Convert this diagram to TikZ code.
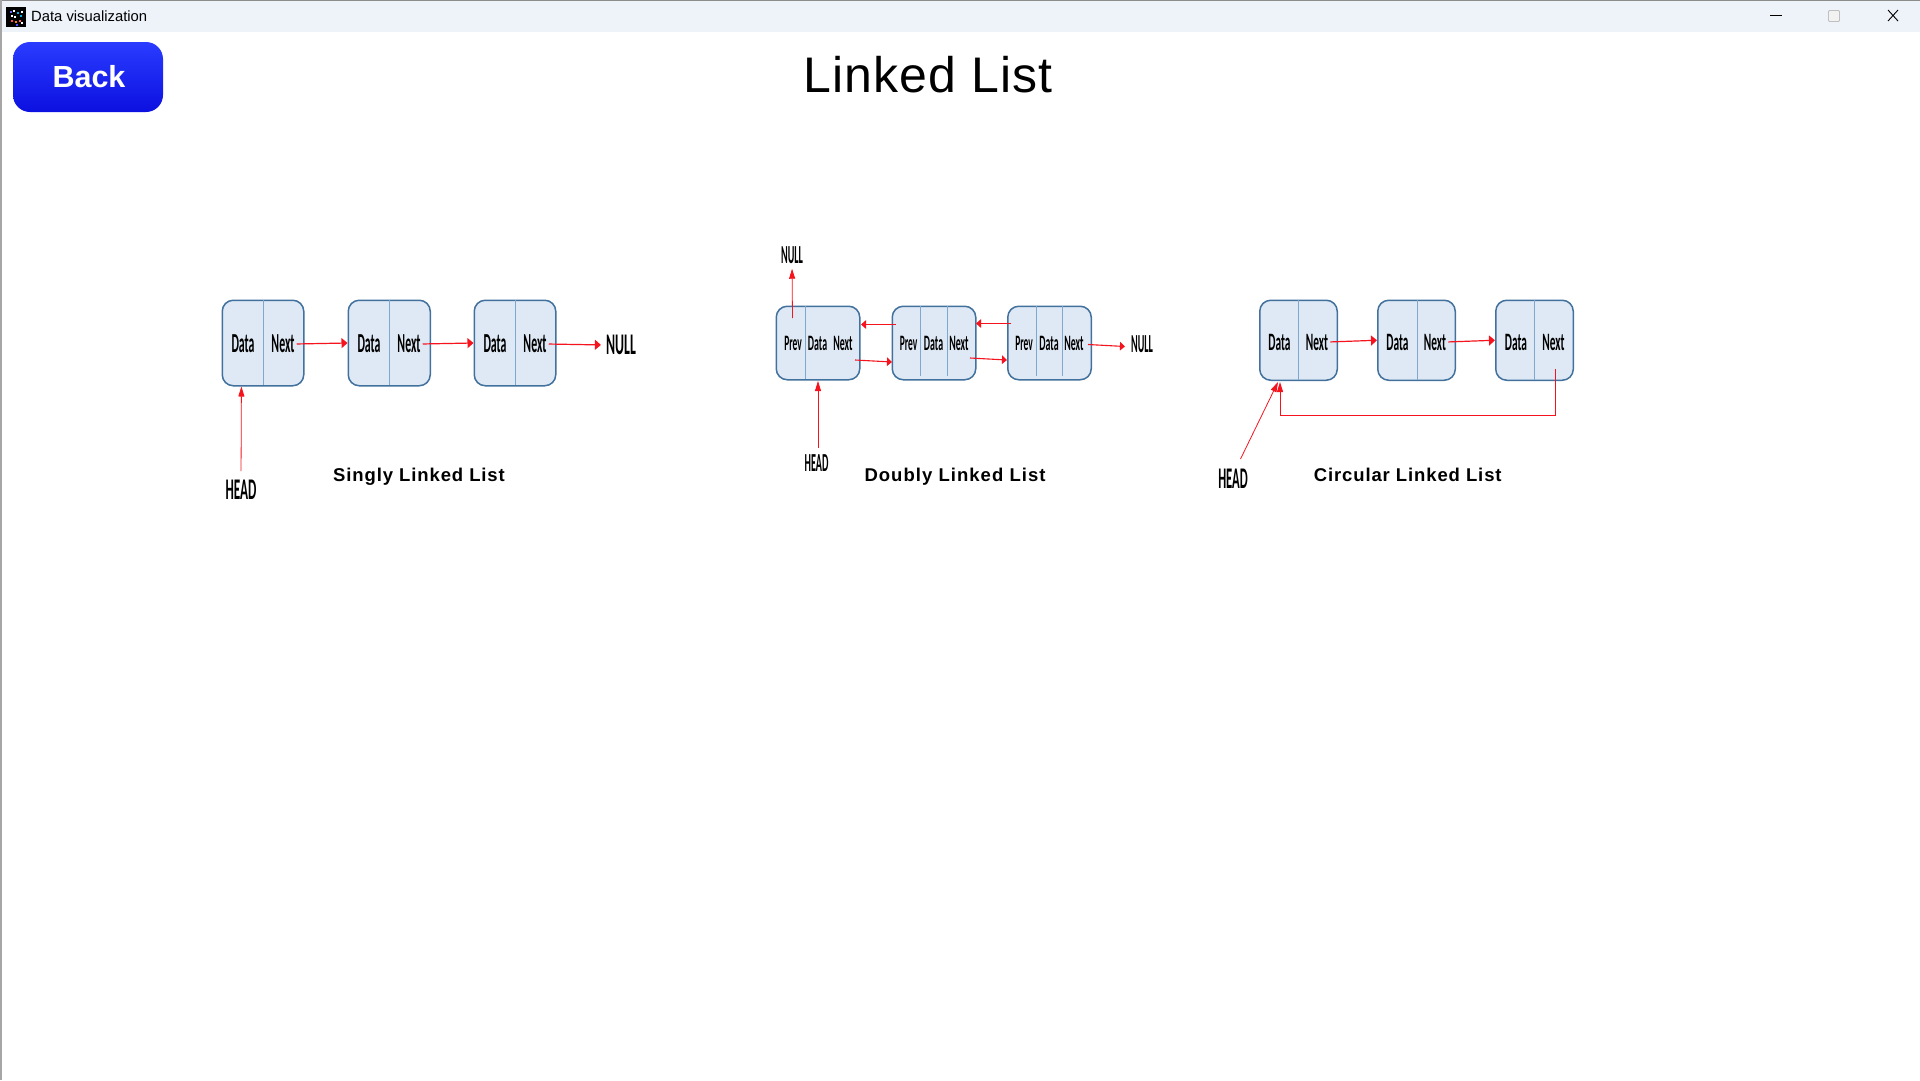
\documentclass[tikz,border=0pt]{standalone}
\usepackage{fontspec}
\setmainfont{Liberation Sans}
\newfontfamily\narfont{Carlito}
\usetikzlibrary{arrows.meta,calc}
\definecolor{boxfill}{HTML}{DEE9F5}
\definecolor{boxline}{HTML}{41719C}
\definecolor{divline}{HTML}{7FA8CF}
\definecolor{barbg}{HTML}{EEF3FA}
\definecolor{btntop}{HTML}{2A3CFF}
\definecolor{btnbot}{HTML}{0C10E0}
\definecolor{arrowred}{HTML}{F5141E}
\newcommand{\nartext}[3]{\scalebox{#1}[1]{\fontsize{#2}{#2}\narfont\bfseries #3}}
\tikzset{
  x=1pt,y=-1pt,
  nodebox/.style={draw=boxline,line width=1.5pt,fill=boxfill,rounded corners=11pt,inner sep=0pt,anchor=north west},
  divider/.style={draw=divline,line width=1pt},
  cell/.style={inner sep=0pt,text=black},
  ptr/.style={draw=arrowred,line width=1.2pt,-{Triangle[length=6pt,width=10pt]}},
  small ptr/.style={draw=arrowred,line width=1.1pt,-{Triangle[length=5pt,width=8.5pt]}},
  up ptr/.style={draw=arrowred,line width=0.8pt,-{Triangle[length=10pt,width=6pt]}},
  caption/.style={inner sep=0pt,anchor=base,font=\fontsize{18.5}{18.5}\bfseries\addfontfeature{LetterSpace=4.8}},
}
\newcommand{\listbox}[5]{% name, x1,y1,x2,y2
  \node[nodebox,minimum width=#4-#2,minimum height=#5-#3] (#1) at (#2,#3) {};
}
\begin{document}
\begin{tikzpicture}
\useasboundingbox (0,0) rectangle (1920,1080);
\fill[white] (0,0) rectangle (1920,1080);
% window chrome
\fill[barbg] (0,0) rectangle (1920,32);
\fill[black!45] (0,0) rectangle (1920,1);
\fill[black!35] (0,0) rectangle (2,1080);
\node[inner sep=0pt,minimum size=20pt,fill=black] (icon) at (16,16.5) {};
\foreach \px/\py/\c in {10/11/blue!60,13/10/white,17/12/cyan,21/11/white,11/15/white,14/16/white,20/15/cyan,11/20/red!70,15/21/orange,19/20/red!60,16/24/blue!70,21/22/white}
  \fill[\c] (\px,\py) rectangle ++(1.6,1.6);
\node[inner sep=0pt,anchor=west,font=\fontsize{14.8}{14.8}\selectfont] (wintitle) at (31,16.5) {Data visualization};
\coordinate (minA) at (1770,15.5); \coordinate (minB) at (1782,15.5);
\draw[black,line width=0.8pt] (minA) -- (minB);
\node[draw=black!25,fill=black!5,rounded corners=1pt,line width=0.9pt,minimum size=11pt,inner sep=0pt] (maxbtn) at (1834,16) {};
\coordinate (xA) at (1888,10); \coordinate (xB) at (1898,21);
\coordinate (xC) at (1888,21); \coordinate (xD) at (1898,10);
\draw[black,line width=0.9pt] (xA) -- (xB) (xC) -- (xD);
% back button
\node[rounded corners=17pt,top color=btntop,bottom color=btnbot,inner sep=0pt,minimum width=150pt,minimum height=70pt,
      text=white,font=\fontsize{30.5}{30.5}\bfseries] (back) at (88,77) {\hspace{2pt}\raisebox{1pt}{Back}};
% title
\node[inner sep=0pt,font=\fontsize{50}{50}\selectfont\addfontfeature{LetterSpace=2.4}] (title) at (928,75) {Linked List};
% Singly
\listbox{s1}{221.5}{299.5}{303}{385}
\listbox{s2}{347.5}{299.5}{429.5}{385}
\listbox{s3}{473.5}{299.5}{555}{385}
\draw[divider] (263,300) -- (263,385) (389.5,300) -- (389.5,385) (515,300) -- (515,385);
\foreach \n/\dx/\nx in {s1/243/283,s2/369/409,s3/495/535}{
  \node[cell] (\n data) at (\dx,344) {\nartext{0.43}{27.5}{Data}};
  \node[cell] (\n next) at (\nx,344) {\nartext{0.43}{27.5}{Next}};
}
\node[cell] (snull) at (621,345) {\nartext{0.46}{30}{NULL}};
\node[cell] (shead) at (241,490) {\nartext{0.44}{30}{HEAD}};
\draw[ptr,shorten <=2pt] (s1next.east) -- (s2.west);
\draw[ptr,shorten <=2pt] (s2next.east) -- (s3.west);
\draw[ptr,shorten >=5pt,shorten <=2pt] (s3next.east) -- (snull.west);
\draw[up ptr,shorten <=9pt] (shead.north) -- ($(s1.south west)!0.24!(s1.south east)$);
\node[caption] (scap) at (419,481) {Singly Linked List};
% Doubly
\listbox{d1}{775.5}{305.5}{859}{379}
\listbox{d2}{891.5}{305.5}{975}{379}
\listbox{d3}{1007}{305.5}{1090.5}{379}
\draw[divider] (805.3,306) -- (805.3,379) (920.3,306) -- (920.3,376) (947.3,306) -- (947.3,376) (1036.3,306) -- (1036.3,376) (1062.7,306) -- (1062.7,376);
\foreach \n/\a/\b/\c in {d1/793/817.5/843,d2/908.5/933.5/959,d3/1024/1049/1074}{
  \node[cell] (\n prev) at (\a,343) {\nartext{0.43}{22}{Prev}};
  \node[cell] (\n data) at (\b,343) {\nartext{0.45}{22}{Data}};
  \node[cell] (\n next) at (\c,343) {\nartext{0.45}{22}{Next}};
}
\node[cell] (dnulla) at (792,255) {\nartext{0.39}{26}{NULL}};
\node[cell] (dnullb) at (1142,344) {\nartext{0.39}{26}{NULL}};
\node[cell] (dhead) at (816.5,463) {\nartext{0.39}{26}{HEAD}};
\coordinate (dnullstart) at (792.5,318);
\coordinate (d1r) at (861,324.5); \coordinate (d2r) at (896,324.5);
\coordinate (d2rr) at (976,323.5); \coordinate (d3r) at (1011,323.5);
\coordinate (d1f) at (855,360); \coordinate (d2f) at (892,362);
\coordinate (d2g) at (970,358); \coordinate (d3g) at (1007,360);
\coordinate (d3n) at (1088,344.5); \coordinate (dnb) at (1125,346.5);
\coordinate (dh) at (818,448); \coordinate (dhb) at (818,381);
\draw[up ptr,shorten >=5pt] (dnullstart) -- (dnulla.south);
\draw[small ptr] (d2r) -- (d1r);
\draw[small ptr] (d3r) -- (d2rr);
\draw[small ptr] (d1f) -- (d2f);
\draw[small ptr] (d2g) -- (d3g);
\draw[small ptr] (d3n) -- (dnb);
\draw[up ptr] (dh) -- (dhb);
\node[caption] (dcap) at (955,481) {\addfontfeature{LetterSpace=5.6}Doubly Linked List};
% Circular
\listbox{c1}{1259}{299.5}{1336.5}{379.5}
\listbox{c2}{1377}{299.5}{1454.5}{379.5}
\listbox{c3}{1495}{299.5}{1572.5}{379.5}
\draw[divider] (1298.3,300) -- (1298.3,380) (1417.7,300) -- (1417.7,380) (1534.7,300) -- (1534.7,380);
\foreach \n/\dx/\nx in {c1/1279.5/1317,c2/1397.5/1435,c3/1516/1553.5}{
  \node[cell] (\n data) at (\dx,342) {\nartext{0.455}{25}{Data}};
  \node[cell] (\n next) at (\nx,342) {\nartext{0.455}{25}{Next}};
}
\node[cell] (chead) at (1233,479) {\nartext{0.42}{30}{HEAD}};
\coordinate (loopa) at (1555.5,369); \coordinate (loopb) at (1555.5,415);
\coordinate (loopc) at (1280,415); \coordinate (loopd) at (1280,382);
\coordinate (cha) at (1240.5,459); \coordinate (chb) at (1278,382);
\draw[ptr,shorten <=2pt] (c1next.east) -- (c2.west);
\draw[ptr,shorten <=2pt] (c2next.east) -- (c3.west);
\draw[up ptr,line width=1pt] (loopa) -- (loopb) -- (loopc) -- (loopd);
\draw[up ptr] (cha) -- (chb);
\node[caption] (ccap) at (1407.7,481) {Circular Linked List};
\end{tikzpicture}
\end{document}
